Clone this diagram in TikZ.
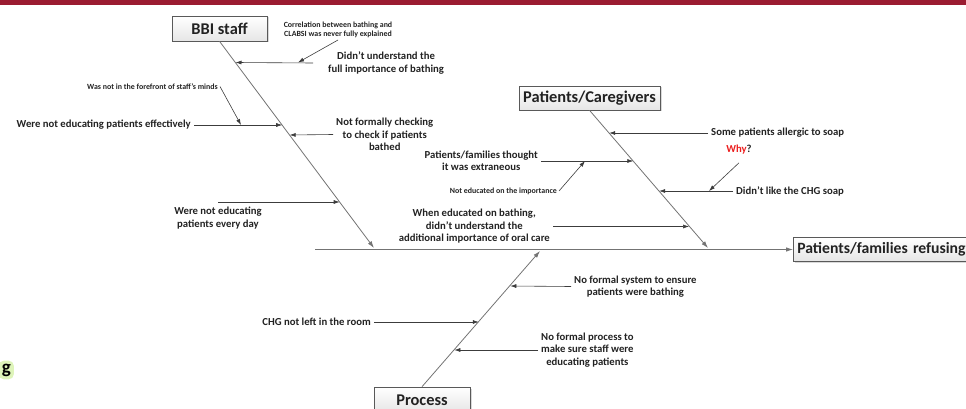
\documentclass[tikz,border=0pt]{standalone}
\usepackage{fontspec}
\setmainfont{Carlito}
\usetikzlibrary{positioning, arrows.meta, shadows}
\definecolor{barred}{RGB}{155,28,49}
\definecolor{inkgray}{RGB}{34,34,34}
\definecolor{linegray}{RGB}{60,60,60}
\definecolor{bonegray}{RGB}{115,115,115}
\definecolor{whyred}{RGB}{235,30,30}
\definecolor{glowgreen}{RGB}{222,244,186}

\begin{document}
\begin{tikzpicture}[
        x=1pt, y=-1pt, % pixel grid, y down
        catbox/.style={
            draw=gray!70!black, line width=0.6pt,
            top color=white, bottom color=gray!20,
            drop shadow={shadow xshift=1.5pt, shadow yshift=-1.5pt, opacity=0.3},
            font=\bfseries\fontsize{16.4}{18}\selectfont, text=inkgray,
            inner xsep=4pt, minimum height=24pt
        },
        cause/.style={align=center, font=\bfseries\fontsize{10.7}{12.5}\selectfont, text=inkgray, inner sep=3pt},
        note/.style={align=center, font=\bfseries\fontsize{7.9}{9}\selectfont, text=inkgray, inner sep=2pt},
        arr/.style={draw=linegray, line width=0.6pt, -{Latex[length=6pt, width=4pt]}},
        bone/.style={draw=bonegray, line width=0.8pt, -{Latex[length=7pt, width=4.5pt]}}
      ]
        \useasboundingbox (0,0) rectangle (966,409);
        \fill[barred] (0,0) rectangle (966,5);
        \node[fill=glowgreen, rounded corners=5pt, inner sep=3pt, anchor=east,
              font=\bfseries\fontsize{19}{19}\selectfont] (frag) at (14,370) {g};

        % category boxes and bones
        \node[catbox, minimum width=95pt, minimum height=25pt] (bbi) at (219.5,28.5) {BBI staff};
        \node[catbox, minimum width=141pt] (pc) at (589.5,98) {Patients/Caregivers};
        \node[catbox, anchor=west, font=\bfseries\fontsize{15.7}{18}\selectfont, inner xsep=4pt,
              minimum width=178pt, align=left, text width=170pt] (refuse) at (793,249.5) {Patients/families refusing};
        \node[catbox, minimum width=96pt, minimum height=26pt] (proc) at (422,400) {Process};

        \coordinate (bbiTip) at (374,248);
        \coordinate (pcTip) at (708,248);
        \coordinate (procTip) at (540,251);
        \coordinate (headTail) at (315,249.5);
        \draw[bone] (bbi.south) -- (bbiTip);
        \draw[bone] (pc.south) -- (pcTip);
        \draw[bone] (proc.north) -- (procTip);
        \draw[bone] (headTail) -- (refuse.west);

        % BBI staff
        \coordinate (onDnu) at (235.5,62.5);
        \coordinate (onEff) at (282.2,125);
        \coordinate (onChk) at (289.7,135);
        \coordinate (onDay) at (339.7,202);
        \node[cause, anchor=west] (dnu) at (325,63) {Didn’t understand the\\full importance of bathing};
        \node[note, anchor=south] (corr) at (338,40) {Correlation between bathing and\\CLABSI was never fully explained};
        \node[cause, anchor=east] (eff) at (194,125) {Were not educating patients effectively};
        \node[note, anchor=east] (fore) at (220,86.5) {Was not in the forefront of staff’s minds};
        \node[cause, anchor=west] (chk) at (333,134.5) {Not formally checking\\to check if patients\\bathed};
        \node[cause, anchor=north, inner ysep=5pt] (day) at (218,202) {Were not educating\\patients every day};
        \draw[arr] ([xshift=-12pt]dnu.west) -- (onDnu);
        \draw[arr] (corr.south) -- (298,62.5);
        \draw[arr] (eff.east) -- (onEff);
        \draw[arr] (fore.east) -- (241,125);
        \draw[arr] (chk.west) -- (onChk);
        \draw[arr] (day.north) -- (onDay);

        % Patients/Caregivers
        \coordinate (onAll) at (609.2,133);
        \coordinate (onExt) at (633.3,161);
        \coordinate (onSoap) at (659.1,191);
        \coordinate (onOral) at (689.1,226.5);
        \node[cause, anchor=west] (all) at (708,133) {Some patients allergic to soap};
        \node[cause, anchor=east] (ext) at (541,161) {Patients/families thought\\it was extraneous};
        \node[note, anchor=east] (noedu) at (559,191) {Not educated on the importance};
        \node[cause] (why) at (739,150) {\textcolor{whyred}{Why}?};
        \node[cause, anchor=west] (soap) at (733,191) {Didn’t like the CHG soap};
        \node[cause, anchor=east] (oral) at (553,226.5) {When educated on bathing,\\didn’t understand the\\additional importance of oral care};
        \draw[arr] (all.west) -- (onAll);
        \draw[arr] (ext.east) -- (onExt);
        \draw[arr] (noedu.east) -- (585,161);
        \draw[arr] ([yshift=-5pt]why.south) -- (709,191);
        \draw[arr] (soap.west) -- (onSoap);
        \draw[arr] (oral.east) -- (onOral);

        % Process
        \coordinate (onSys) at (510.3,286);
        \coordinate (onChg) at (478.8,322);
        \coordinate (onProc) at (454.3,350);
        \node[cause, anchor=west] (sys) at (571,286.5) {No formal system to ensure\\patients were bathing};
        \node[cause, anchor=east] (chg) at (374,322) {CHG not left in the room};
        \node[cause, anchor=west] (nfp) at (538,350) {No formal process to\\make sure staff were\\educating patients};
        \draw[arr] (sys.west) -- (onSys);
        \draw[arr] (chg.east) -- (onChg);
        \draw[arr] (nfp.west) -- (onProc);
\end{tikzpicture}
\end{document}
